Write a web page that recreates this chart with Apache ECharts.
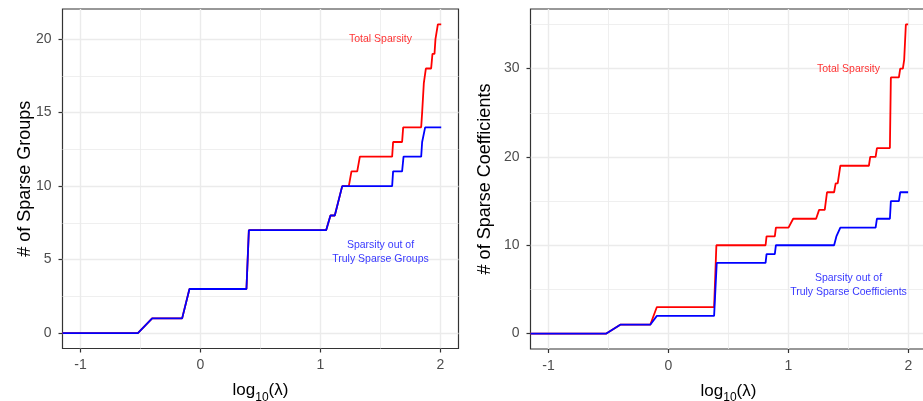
<!DOCTYPE html>
<html>
<head>
<meta charset="utf-8">
<script src="https://cdn.jsdelivr.net/npm/echarts@6/dist/echarts.min.js"></script>
<style>
html,body{margin:0;padding:0;background:#fff;}
#main{width:923px;height:401px;}
</style>
</head>
<body>
<div id="main"></div>
<script>
// 左图: # of Sparse Groups
var groupsTotalX=[-1.15,-0.522,-0.403,-0.153,-0.092,0.383,0.403,1.047,1.083,1.119,1.181,1.236,1.258,1.306,1.328,1.597,1.605,1.68,1.689,1.839,1.847,1.861,1.869,1.878,1.922,1.933,1.95,1.958,1.969,1.978,2.006];
var groupsTotalY=[0,0,1,1,3,3,7,7,8,8,10,10,11,11,12,12,13,13,14,14,15,17,17,18,18,19,19,20,20,21,21];
var groupsTrueX=[-1.15,-0.522,-0.403,-0.153,-0.092,0.383,0.403,1.047,1.083,1.119,1.181,1.597,1.605,1.68,1.692,1.839,1.847,1.858,1.872,2.006];
var groupsTrueY=[0,0,1,1,3,3,7,7,8,8,10,10,11,11,12,12,13,13,14,14];

// 右图: # of Sparse Coefficients
var coefTotalX=[-1.15,-0.518,-0.402,-0.152,-0.097,0.380,0.399,0.809,0.817,0.886,0.895,1.0,1.039,1.23,1.255,1.302,1.321,1.38,1.393,1.41,1.432,1.670,1.681,1.726,1.737,1.845,1.853,1.92,1.931,1.953,1.964,1.972,1.978,1.997];
var coefTotalY=[0,0,1,1,3,3,10,10,11,11,12,12,13,13,14,14,16,16,17,17,19,19,20,20,21,21,29,29,30,30,31,31,35,35];
var coefTrueX=[-1.15,-0.518,-0.402,-0.152,-0.097,0.380,0.402,0.809,0.817,0.886,0.895,1.380,1.399,1.41,1.432,1.726,1.737,1.845,1.853,1.92,1.931,1.997];
var coefTrueY=[0,0,1,1,2,2,8,8,9,9,10,10,11,11,12,12,13,13,15,15,16,16];

// 刻度
var xTicks=[-1,0,1,2];
var xMinor=[-0.5,0.5,1.5];
var groupsTicks=[0,5,10,15,20];
var groupsMinor=[2.5,7.5,12.5,17.5];
var coefTicks=[0,10,20,30];
var coefMinor=[5,15,25,35];

// 注释文字
var totalLabel='Total Sparsity';
var groupsTrueLabel='Sparsity out of\nTruly Sparse Groups';
var coefTrueLabel='Sparsity out of\nTruly Sparse Coefficients';
var groupsLabelPos=[[1.5,20],[1.5,5.5]];
var coefLabelPos=[[1.5,30],[1.5,5.5]];

var FONT='Liberation Sans, Arial, sans-serif';

function pair(xs,ys){
    var out=[];
    for(var i=0;i<xs.length;i++){out.push([xs[i],ys[i]]);}
    return out;
}

// 主轴: 刻度/标签/主网格
function majorX(gi){
    return {
        type:'value',gridIndex:gi,min:-1.15,max:2.15,position:'bottom',
        name:'{a|log}{b|10}{a|(λ)}',nameLocation:'middle',nameGap:31,nameMoveOverlap:false,
        nameTextStyle:{fontFamily:FONT,color:'#000',rich:{
            a:{fontSize:17,fontFamily:FONT,color:'#000',height:22,verticalAlign:'top'},
            b:{fontSize:12,fontFamily:FONT,color:'#000',height:22,verticalAlign:'top',padding:[7,0,0,0]}
        }},
        axisLine:{show:false,onZero:false},
        axisTick:{show:true,length:4,customValues:xTicks,lineStyle:{color:'#333',width:1.2}},
        axisLabel:{customValues:xTicks,color:'#4d4d4d',fontSize:14,fontFamily:FONT,margin:10},
        splitLine:{show:true,lineStyle:{color:'#ebebeb',width:1.4}}
    };
}
function minorX(gi){
    return {
        type:'value',gridIndex:gi,min:-1.15,max:2.15,position:'top',
        axisLine:{show:false,onZero:false},
        axisTick:{show:false,customValues:xMinor},
        axisLabel:{show:false},
        splitLine:{show:true,lineStyle:{color:'#ebebeb',width:0.8}}
    };
}
function majorY(gi,lo,hi,ticks,title,gap){
    return {
        type:'value',gridIndex:gi,min:lo,max:hi,position:'left',
        name:title,nameLocation:'middle',nameGap:gap,nameRotate:90,nameMoveOverlap:false,
        nameTextStyle:{fontSize:18,fontFamily:FONT,color:'#000'},
        axisLine:{show:false,onZero:false},
        axisTick:{show:true,length:4,customValues:ticks,lineStyle:{color:'#333',width:1.2}},
        axisLabel:{customValues:ticks,color:'#4d4d4d',fontSize:14,fontFamily:FONT,margin:11},
        splitLine:{show:true,lineStyle:{color:'#ebebeb',width:1.4}}
    };
}
function minorY(gi,lo,hi,ticks){
    return {
        type:'value',gridIndex:gi,min:lo,max:hi,position:'right',
        axisLine:{show:false,onZero:false},
        axisTick:{show:false,customValues:ticks},
        axisLabel:{show:false},
        splitLine:{show:true,lineStyle:{color:'#ebebeb',width:0.8}}
    };
}
function stepLine(xi,yi,data,color){
    return {
        type:'line',xAxisIndex:xi,yAxisIndex:yi,data:data,
        showSymbol:false,symbol:'none',animation:false,
        lineStyle:{color:color,width:1.8},z:3
    };
}
function note(xi,yi,pos,text,color){
    return {
        type:'scatter',xAxisIndex:xi,yAxisIndex:yi,data:[pos],
        symbolSize:0,silent:true,animation:false,z:4,
        label:{show:true,position:'inside',formatter:text,color:color,
            fontSize:10.5,lineHeight:14.7,fontFamily:FONT,align:'center'}
    };
}

var myChart=echarts.init(document.getElementById('main'),null,{renderer:'canvas'});
var option={
    backgroundColor:'#fff',
    animation:false,
    grid:[
        {left:62.5,top:9,width:396,height:339.5,show:true,borderColor:'#333',borderWidth:1.2,outerBoundsMode:'none'},
        {left:530.5,top:9,width:396,height:340,show:true,borderColor:'#333',borderWidth:1.2,outerBoundsMode:'none'}
    ],
    xAxis:[majorX(0),minorX(0),majorX(1),minorX(1)],
    yAxis:[
        majorY(0,-1.05,22.05,groupsTicks,'# of Sparse Groups',28.5),
        minorY(0,-1.05,22.05,groupsMinor),
        majorY(1,-1.75,36.75,coefTicks,'# of Sparse Coefficients',36),
        minorY(1,-1.75,36.75,coefMinor)
    ],
    series:[
        stepLine(0,0,pair(groupsTotalX,groupsTotalY),'#ff0000'),
        stepLine(0,0,pair(groupsTrueX,groupsTrueY),'#0000ff'),
        stepLine(2,2,pair(coefTotalX,coefTotalY),'#ff0000'),
        stepLine(2,2,pair(coefTrueX,coefTrueY),'#0000ff'),
        note(0,0,groupsLabelPos[0],totalLabel,'#ff0000'),
        note(0,0,groupsLabelPos[1],groupsTrueLabel,'#0000ff'),
        note(2,2,coefLabelPos[0],totalLabel,'#ff0000'),
        note(2,2,coefLabelPos[1],coefTrueLabel,'#0000ff')
    ]
};
myChart.setOption(option);
</script>
</body>
</html>
